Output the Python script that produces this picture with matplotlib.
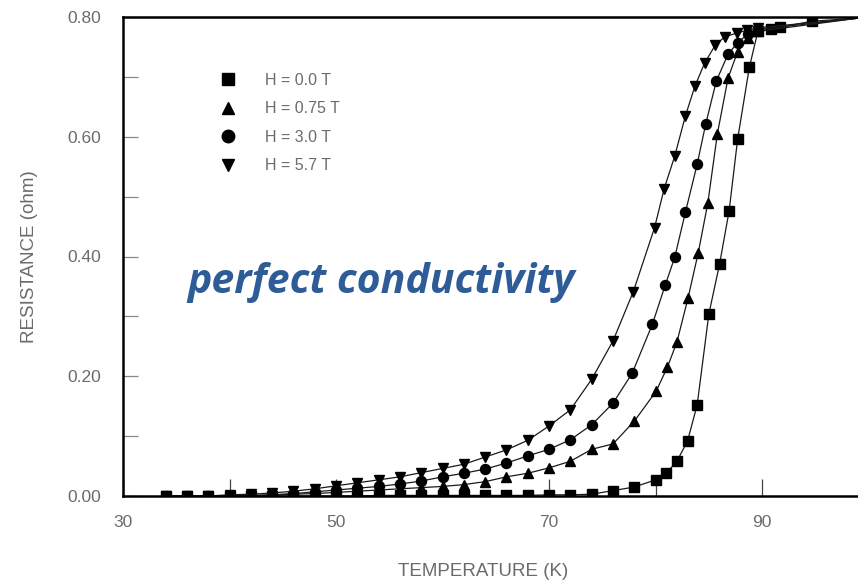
import matplotlib
matplotlib.use("Agg")
import matplotlib.pyplot as plt
from matplotlib.lines import Line2D
from matplotlib import ticker

# ---- data (temperature in K, resistance in ohm) ----
t_00 = [34, 36, 38, 40, 42, 44, 46, 48, 50, 52, 54, 56, 58, 60, 62, 64, 66, 68, 70, 72, 74,
        76, 78, 80, 81, 82, 83, 83.9, 85, 86, 86.9, 87.7, 88.8, 89.6, 90.8, 91.7, 94.7, 99]
r_00 = [0, 0, 0, 0, 0, 0, 0, 0, 0, 0, 0.001, 0.001, 0.001, 0.001, 0.001, 0.001, 0.001, 0.001,
        0.002, 0.002, 0.003, 0.009, 0.015, 0.027, 0.038, 0.058, 0.092, 0.152, 0.304, 0.387,
        0.476, 0.596, 0.716, 0.776, 0.780, 0.783, 0.793, 0.798]

t_075 = [34, 36, 38, 40, 42, 44, 46, 48, 50, 52, 54, 56, 58, 60, 62, 64, 66, 68, 70, 72, 74,
         76, 78, 80.05, 81.1, 82, 83.05, 84, 84.9, 85.8, 86.8, 87.7, 88.7, 89.6, 99]
r_075 = [0, 0, 0, 0, 0.001, 0.002, 0.003, 0.004, 0.006, 0.008, 0.010, 0.012, 0.014, 0.016,
         0.019, 0.024, 0.032, 0.038, 0.047, 0.058, 0.078, 0.087, 0.125, 0.175, 0.215, 0.257,
         0.331, 0.406, 0.489, 0.605, 0.698, 0.742, 0.765, 0.776, 0.798]

t_30 = [34, 36, 38, 40, 42, 44, 46, 48, 50, 52, 54, 56, 58, 60, 62, 64, 66, 68, 70, 72, 74,
        76, 77.8, 79.7, 80.9, 81.8, 82.8, 83.9, 84.7, 85.7, 86.8, 87.7, 88.7, 89.6, 99]
r_30 = [0, 0, 0, 0, 0, 0.002, 0.004, 0.007, 0.010, 0.013, 0.016, 0.020, 0.025, 0.032, 0.038,
        0.045, 0.055, 0.067, 0.078, 0.094, 0.119, 0.155, 0.205, 0.287, 0.352, 0.399, 0.474,
        0.554, 0.621, 0.693, 0.738, 0.757, 0.772, 0.779, 0.798]

t_57 = [34, 36, 38, 40, 42, 44, 46, 48, 50, 52, 54, 56, 58, 60, 62, 64, 66, 68, 70, 72, 74,
        76, 77.9, 79.9, 80.8, 81.8, 82.8, 83.7, 84.6, 85.6, 86.5, 87.6, 88.6, 89.6, 99]
r_57 = [0, 0, 0, 0.002, 0.003, 0.005, 0.008, 0.012, 0.017, 0.022, 0.027, 0.032, 0.039, 0.046,
        0.053, 0.065, 0.077, 0.093, 0.117, 0.144, 0.195, 0.259, 0.341, 0.448, 0.513, 0.568,
        0.635, 0.685, 0.723, 0.753, 0.767, 0.773, 0.778, 0.782, 0.798]

series = [(t_00, r_00, "s", "H = 0.0 T"),
          (t_075, r_075, "^", "H = 0.75 T"),
          (t_30, r_30, "o", "H = 3.0 T"),
          (t_57, r_57, "v", "H = 5.7 T")]

label_color = "#6b6b6b"
font = "Liberation Sans"

fig = plt.figure(figsize=(8.58, 5.85), dpi=100)
ax = fig.add_axes([123 / 858, 1 - 496 / 585, 1 - 123 / 858, (496 - 17) / 585])

for t, r, m, lab in series:
    # last point only carries the line out to the frame edge
    ax.plot(t, r, color="#1a1a1a", lw=0.9, marker=m, markersize=7.2,
            markevery=list(range(len(t) - 1)), markerfacecolor="black",
            markeredgecolor="black")

ax.set_xlim(30, 99)
ax.set_ylim(0, 0.80)

ax.spines["right"].set_visible(False)
for s in ["left", "top", "bottom"]:
    ax.spines[s].set_linewidth(1.8)
    ax.spines[s].set_color("black")

ax.xaxis.set_major_locator(ticker.FixedLocator([30, 50, 70, 90]))
ax.xaxis.set_minor_locator(ticker.FixedLocator([40, 60, 80]))
ax.yaxis.set_major_locator(ticker.FixedLocator([0, 0.2, 0.4, 0.6, 0.8]))
ax.yaxis.set_minor_locator(ticker.FixedLocator([0.1, 0.3, 0.5, 0.7]))
ax.yaxis.set_major_formatter(ticker.FormatStrFormatter("%.2f"))

ax.tick_params(axis="x", which="both", direction="in", length=12, width=0.9,
               color="#444444", pad=14, labelsize=12.5, labelcolor=label_color)
ax.tick_params(axis="y", which="both", direction="in", length=10.5, width=0.9,
               color="#888888", pad=16, labelsize=12.5, labelcolor=label_color)
for lab in ax.get_xticklabels() + ax.get_yticklabels():
    lab.set_fontfamily(font)

ax.set_xlabel("TEMPERATURE (K)", fontsize=13.5, color=label_color, family=font)
ax.set_ylabel("RESISTANCE (ohm)", fontsize=13.5, color=label_color, family=font)
ax.xaxis.set_label_coords(0.49, -0.14)
ax.yaxis.set_label_coords(-0.115, 0.5)

handles = [Line2D([], [], ls="none", marker=m, color="black", markersize=9)
           for _, _, m, _ in series]
leg = ax.legend(handles, [s[3] for s in series], loc="upper left",
                bbox_to_anchor=(0.1325, 0.884), frameon=False, borderaxespad=0,
                borderpad=0, handlelength=1.0, handletextpad=1.8, labelspacing=0.85,
                prop={"family": font, "size": 11.5})
for txt in leg.get_texts():
    txt.set_color(label_color)

ax.text(0.088, 0.445, "perfect conductivity", transform=ax.transAxes,
        ha="left", va="center", fontsize=29.5, fontweight="bold", fontstyle="italic",
        color="#2E5C96", family="Open Sans")

fig.savefig("out.png", dpi=100)
